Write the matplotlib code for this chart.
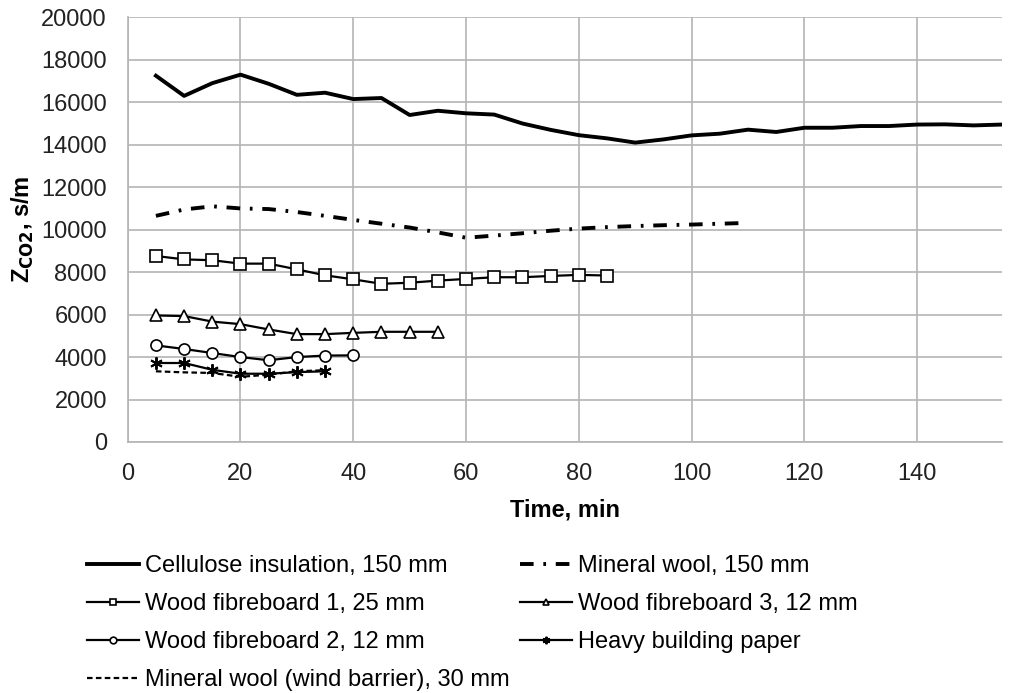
import matplotlib
matplotlib.use("Agg")
import matplotlib.pyplot as plt

plt.rcParams["font.family"] = ["Liberation Sans", "DejaVu Sans"]

# time axis (min) and Z_CO2 (s/m) for each material
t_cellulose = [5, 10, 15, 20, 25, 30, 35, 40, 45, 50, 55, 60, 65, 70, 75, 80,
               85, 90, 95, 100, 105, 110, 115, 120, 125, 130, 135, 140, 145, 150, 155]
z_cellulose = [17250, 16300, 16900, 17300, 16870, 16350, 16450, 16150, 16200, 15400,
               15600, 15480, 15420, 15000, 14700, 14450, 14300, 14100, 14250, 14440,
               14520, 14710, 14600, 14800, 14800, 14880, 14880, 14950, 14960, 14910, 14950]

t_minwool = [5, 10, 15, 20, 25, 30, 35, 40, 45, 50, 55, 60, 65, 70, 75, 80,
             85, 90, 95, 100, 105, 109]
z_minwool = [10650, 10950, 11100, 11000, 10970, 10830, 10650, 10460, 10280, 10100,
             9870, 9620, 9720, 9830, 9950, 10050, 10120, 10170, 10210, 10240, 10280, 10310]

t_wf1 = [5, 10, 15, 20, 25, 30, 35, 40, 45, 50, 55, 60, 65, 70, 75, 80, 85]
z_wf1 = [8760, 8600, 8560, 8400, 8400, 8130, 7850, 7660, 7450, 7500, 7600, 7680,
         7760, 7760, 7820, 7870, 7840]

t_wf3 = [5, 10, 15, 20, 25, 30, 35, 40, 45, 50, 55]
z_wf3 = [5960, 5930, 5670, 5550, 5300, 5080, 5080, 5140, 5190, 5190, 5190]

t_wf2 = [5, 10, 15, 20, 25, 30, 35, 40]
z_wf2 = [4550, 4380, 4190, 4000, 3850, 4000, 4070, 4080]

t_paper = [5, 10, 15, 20, 25, 30, 35]
z_paper = [3720, 3720, 3400, 3215, 3215, 3290, 3330]

t_wind = [5, 10, 15, 20, 25, 30, 35]
z_wind = [3330, 3280, 3250, 3070, 3170, 3330, 3380]

x_ticks = [0, 20, 40, 60, 80, 100, 120, 140]
y_ticks = list(range(0, 20001, 2000))

fig = plt.figure(figsize=(10.25, 6.93), dpi=100)
ax = fig.add_axes([0.1246, 0.3622, 0.8527, 0.6128])

mk = dict(markerfacecolor="white", markeredgecolor="black", markeredgewidth=1.2)

l_cel, = ax.plot(t_cellulose, z_cellulose, color="black", lw=2.8,
                 label="Cellulose insulation, 150 mm")
l_mw, = ax.plot(t_minwool, z_minwool, color="black", lw=2.8,
                dashes=(3.5, 2.5, 0.7, 2.5), label="Mineral wool, 150 mm")
l_wf1, = ax.plot(t_wf1, z_wf1, color="black", lw=1.6, marker="s", ms=8, **mk,
                 label="Wood fibreboard 1, 25 mm")
l_wf3, = ax.plot(t_wf3, z_wf3, color="black", lw=1.6, marker="^", ms=8, **mk,
                 label="Wood fibreboard 3, 12 mm")
l_wf2, = ax.plot(t_wf2, z_wf2, color="black", lw=1.6, marker="o", ms=8, **mk,
                 label="Wood fibreboard 2, 12 mm")
l_pap, = ax.plot(t_paper, z_paper, color="black", lw=1.6, marker=(6, 2, 0), ms=9,
                 markeredgewidth=1.4, label="Heavy building paper")
l_wind, = ax.plot(t_wind, z_wind, color="black", lw=1.6, dashes=(2.5, 1.5),
                  label="Mineral wool (wind barrier), 30 mm")

ax.set_xlim(0, 155)
ax.set_ylim(0, 20000)
ax.set_xticks(x_ticks)
ax.set_yticks(y_ticks)
ax.grid(True, color="#b4b4b4", lw=1.2)
ax.set_axisbelow(True)
for s in ("top", "right"):
    ax.spines[s].set_visible(False)
for s in ("left", "bottom"):
    ax.spines[s].set_color("#b4b4b4")
    ax.spines[s].set_linewidth(1.2)
ax.tick_params(length=0, labelsize=17, pad=15, colors="#222222")
ax.set_xlabel("Time, min", fontsize=17, fontweight="bold", labelpad=10)
ax.set_ylabel(r"Z$_{\mathbf{CO2}}$, s/m", fontsize=17, fontweight="bold", labelpad=4)

handles = [l_cel, l_wf1, l_wf2, l_wind, l_mw, l_wf3, l_pap]
fig.legend(handles=handles, labels=[h.get_label() for h in handles],
           loc="upper left", bbox_to_anchor=(0.085, 0.199), ncol=2, frameon=False,
           fontsize=17, handlelength=2.2, handletextpad=0.25, columnspacing=0.45,
           labelspacing=0.68, borderpad=0, borderaxespad=0, markerscale=0.6)

fig.savefig("out.png", dpi=100)
